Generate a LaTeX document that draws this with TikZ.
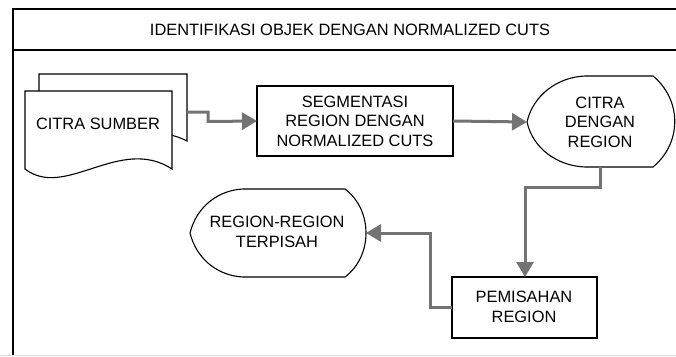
\documentclass[tikz,border=0pt]{standalone}
\usepackage{fontspec}
\setmainfont{Liberation Sans}
\usetikzlibrary{arrows.meta}
\definecolor{conn}{HTML}{737373}
\tikzset{
  frameline/.style={line width=1.6pt, black},
  shapeline/.style={line width=1.1pt, black, fill=white},
  txt/.style={align=center, inner sep=0pt, font=\fontsize{16.4}{19.5}\selectfont},
  flow/.style={line width=3pt, conn, -{Triangle[length=15pt,width=17pt]}},
}
\begin{document}
\begin{tikzpicture}[x=1pt,y=-1pt]
\useasboundingbox (0,0) rectangle (676,356);
% frame
\draw[frameline] (676,9) -- (13,9) -- (13,355);
\draw[frameline] (13,50) -- (676,50);
\draw[line width=1pt, black!12] (0,355.5) -- (676,355.5);
\node[txt] (title) at (350,30) {IDENTIFIKASI OBJEK DENGAN NORMALIZED CUTS};

% document shape (back)
\draw[shapeline] (39,141) -- (39,74) -- (187,74) -- (187,141)
  .. controls (134,114) and (78,163) .. (39,141);
% document shape (front)
\draw[shapeline] (25,169) -- (25,91) -- (172,91) -- (172,169)
  .. controls (120,135) and (65,200) .. (25,169);
\coordinate (docout) at (187,112);
\node[txt] (src) at (98,124) {CITRA SUMBER};

% segmentation box
\draw[shapeline] (257,86) rectangle (453,156);
\coordinate (segL) at (257,121);
\coordinate (segR) at (453,121);
\node[txt] (seg) at (355,121) {SEGMENTASI\\REGION DENGAN\\NORMALIZED CUTS};

% display: CITRA DENGAN REGION
\draw[shapeline] (527,122) .. controls (533,95) and (558,77) .. (585,76)
  -- (653,76) .. controls (682,100) and (682,143) .. (653,167)
  -- (585,167) .. controls (558,166) and (533,149) .. (527,122) -- cycle;
\coordinate (dispL) at (527,122);
\coordinate (dispB) at (600,167);
\node[txt] (disp) at (600,122) {CITRA\\DENGAN\\REGION};

% PEMISAHAN box
\draw[shapeline] (452,277) rectangle (597,338);
\coordinate (pemT) at (525,277);
\coordinate (pemL) at (452,307);
\node[txt] (pem) at (524,307) {PEMISAHAN\\REGION};

% display: REGION-REGION TERPISAH
\draw[shapeline] (190,233) .. controls (197,205) and (220,190) .. (243,189)
  -- (345,189) .. controls (373,210) and (373,256) .. (345,277)
  -- (243,277) .. controls (220,276) and (197,261) .. (190,233) -- cycle;
\coordinate (regR) at (366,233);
\node[txt] (reg) at (277,232) {REGION-REGION\\TERPISAH};

% connectors
\draw[flow] (docout) -- (208,112) -- (208,121.5) -- (segL);
\draw[flow] (segR) -- (dispL);
\draw[flow] (dispB) -- (600,187) -- (525,187) -- (pemT);
\draw[flow] (pemL) -- (430,307) -- (430,233) -- (regR);
\end{tikzpicture}
\end{document}
